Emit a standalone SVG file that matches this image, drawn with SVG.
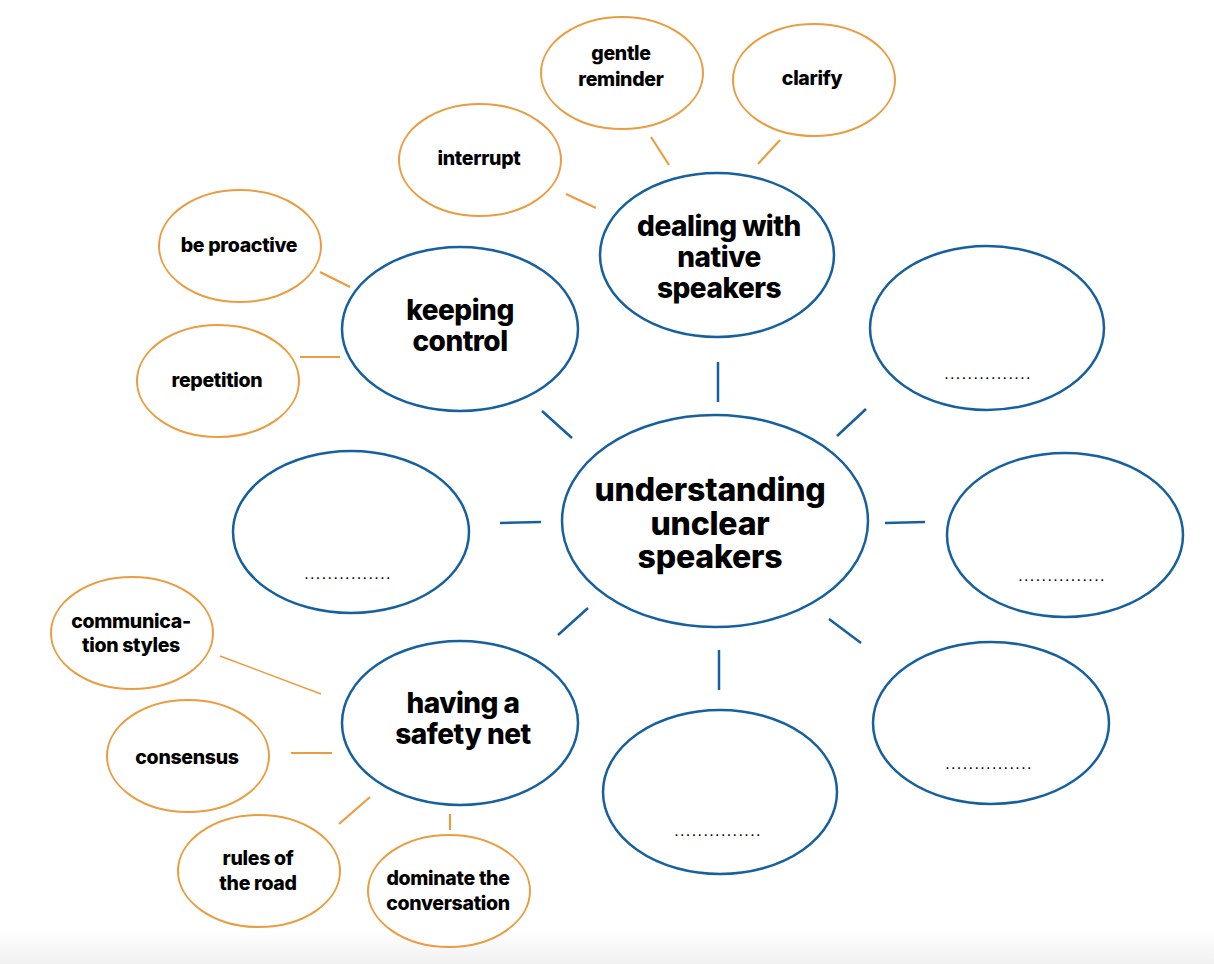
<svg xmlns="http://www.w3.org/2000/svg" width="1214" height="964" viewBox="0 0 1214 964">
<defs>
<linearGradient id="foot" x1="0" y1="0" x2="0" y2="1">
<stop offset="0" stop-color="#ffffff"/>
<stop offset="1" stop-color="#f1f1f1"/>
</linearGradient>
<style>
.b{fill:#fff;stroke:#17609f;stroke-width:2.5}
.o{fill:#fff;stroke:#e99d40;stroke-width:2}
.bl{stroke:#17609f;stroke-width:2.5;fill:none}
.ol{stroke:#e99d40;stroke-width:2.2;fill:none}
.t{font-family:Inter,"Liberation Sans",sans-serif;font-weight:800;fill:#000;text-anchor:middle}
.c{font-size:32px;letter-spacing:-0.2px}
.m{font-size:28px;letter-spacing:-0.5px}
.s{font-size:19.5px;letter-spacing:-0.3px}
.d{font-family:"Liberation Sans",sans-serif;font-size:16px;letter-spacing:1.4px;fill:#000;text-anchor:middle}
</style>
</defs>
<rect width="1214" height="964" fill="#fff"/>
<rect x="0" y="930" width="1214" height="34" fill="url(#foot)"/>

<g id="connectors">
<line class="bl" x1="718" y1="362" x2="718" y2="402"/>
<line class="bl" x1="542" y1="411" x2="572" y2="438"/>
<line class="bl" x1="500" y1="523" x2="541" y2="522"/>
<line class="bl" x1="558" y1="635" x2="588" y2="608"/>
<line class="bl" x1="719" y1="650" x2="719" y2="690"/>
<line class="bl" x1="837" y1="436" x2="866" y2="409"/>
<line class="bl" x1="885" y1="523" x2="925" y2="522"/>
<line class="bl" x1="829" y1="619" x2="861" y2="643"/>
<line class="ol" x1="651" y1="137" x2="669" y2="165"/>
<line class="ol" x1="780" y1="140" x2="758" y2="164"/>
<line class="ol" x1="566" y1="194" x2="596" y2="208"/>
<line class="ol" x1="320" y1="272" x2="350" y2="287"/>
<line class="ol" x1="300" y1="357" x2="340" y2="357"/>
<line class="ol" x1="220" y1="656" x2="321" y2="694" style="stroke-width:1.5"/>
<line class="ol" x1="291" y1="753" x2="332" y2="753"/>
<line class="ol" x1="339" y1="824" x2="370" y2="797"/>
<line class="ol" x1="450" y1="814" x2="450" y2="830"/>
</g>

<g id="central">
<ellipse class="b" cx="715" cy="521" rx="153" ry="106"/>
<text class="t c" x="710" y="501">understanding</text>
<text class="t c" x="710" y="535">unclear</text>
<text class="t c" x="710" y="568">speakers</text>
</g>
<g id="dealing">
<ellipse class="b" cx="717" cy="255" rx="117" ry="82"/>
<text class="t m" x="719" y="236">dealing with</text>
<text class="t m" x="719" y="267">native</text>
<text class="t m" x="719" y="298">speakers</text>
</g>
<g id="keeping">
<ellipse class="b" cx="460" cy="329" rx="118" ry="82"/>
<text class="t m" x="460" y="320">keeping</text>
<text class="t m" x="460" y="351">control</text>
</g>
<g id="safety">
<ellipse class="b" cx="460" cy="723" rx="118" ry="82"/>
<text class="t m" x="463" y="713">having a</text>
<text class="t m" x="463" y="744">safety net</text>
</g>
<g id="blank-left">
<ellipse class="b" cx="351" cy="532" rx="118" ry="81"/>
<text class="d" x="348" y="579">...............</text>
</g>
<g id="blank-bottom">
<ellipse class="b" cx="720" cy="792" rx="117" ry="82"/>
<text class="d" x="718" y="836">...............</text>
</g>
<g id="blank-right-top">
<ellipse class="b" cx="987" cy="328" rx="117" ry="82"/>
<text class="d" x="988" y="379">...............</text>
</g>
<g id="blank-right-mid">
<ellipse class="b" cx="1065" cy="535" rx="118" ry="82"/>
<text class="d" x="1062" y="581">...............</text>
</g>
<g id="blank-right-bottom">
<ellipse class="b" cx="991" cy="723" rx="118" ry="81"/>
<text class="d" x="989" y="769">...............</text>
</g>

<g id="gentle">
<ellipse class="o" cx="622" cy="73" rx="81" ry="56"/>
<text class="t s" x="621" y="60">gentle</text>
<text class="t s" x="621" y="86">reminder</text>
</g>
<g id="clarify">
<ellipse class="o" cx="814" cy="80" rx="81" ry="56"/>
<text class="t s" x="812" y="85">clarify</text>
</g>
<g id="interrupt">
<ellipse class="o" cx="480" cy="160" rx="81" ry="56"/>
<text class="t s" x="479" y="165">interrupt</text>
</g>
<g id="proactive">
<ellipse class="o" cx="240" cy="246" rx="81" ry="56"/>
<text class="t s" x="239" y="252">be proactive</text>
</g>
<g id="repetition">
<ellipse class="o" cx="218" cy="381" rx="81" ry="56"/>
<text class="t s" x="217" y="387">repetition</text>
</g>
<g id="communication">
<ellipse class="o" cx="132" cy="633" rx="81" ry="56"/>
<text class="t s" x="131" y="628">communica-</text>
<text class="t s" x="131" y="652">tion styles</text>
</g>
<g id="consensus">
<ellipse class="o" cx="188" cy="756" rx="81" ry="56"/>
<text class="t s" x="187" y="764">consensus</text>
</g>
<g id="rules">
<ellipse class="o" cx="259" cy="871" rx="81" ry="56"/>
<text class="t s" x="258" y="865">rules of</text>
<text class="t s" x="258" y="890">the road</text>
</g>
<g id="dominate">
<ellipse class="o" cx="449" cy="891" rx="81" ry="56"/>
<text class="t s" x="448" y="885">dominate the</text>
<text class="t s" x="448" y="910">conversation</text>
</g>
</svg>
